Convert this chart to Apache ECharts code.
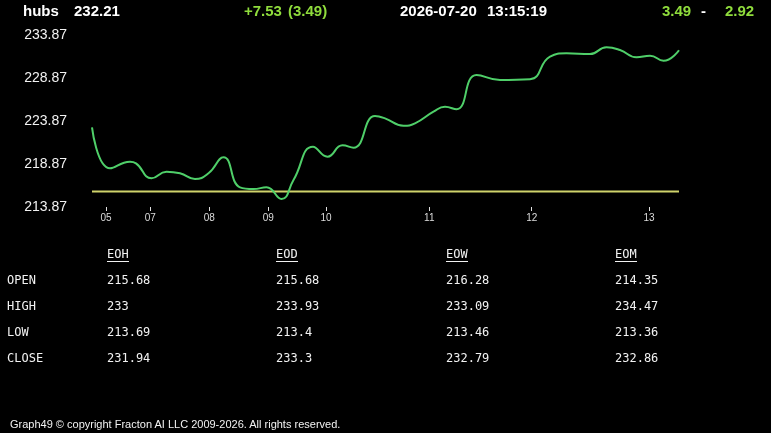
<!DOCTYPE html>
<html>
<head>
<meta charset="utf-8">
<script src="https://cdn.jsdelivr.net/npm/echarts@6/dist/echarts.min.js"></script>
<style>
  html, body { margin: 0; padding: 0; background: #000; }
  #wrap { position: relative; width: 771px; height: 433px; overflow: hidden; background: #000; }
  #chart { position: absolute; left: 0; top: 0; width: 771px; height: 433px; }
  .t { position: absolute; white-space: pre; line-height: 16px; pointer-events: none; }
  .hd { font: bold 15px "Liberation Sans", Arial, sans-serif; color: #fff; top: 2px; }
  .up { color: #8fdc3c; }
  .tb { font: 12px "DejaVu Sans Mono", monospace; color: #f2f2f2; }
  .uh { border-bottom: 1px solid #f2f2f2; line-height: 14px; }
  .ft { font: 11px "Liberation Sans", Arial, sans-serif; color: #f2f2f2; letter-spacing: 0px; }
</style>
</head>
<body>
<div id="wrap">
  <div id="chart"></div>
  <div class="t hd" style="left:23px">hubs</div>
  <div class="t hd" style="left:74px">232.21</div>
  <div class="t hd up" style="left:244px">+7.53</div>
  <div class="t hd up" style="left:288px">(3.49)</div>
  <div class="t hd" style="left:400px">2026-07-20</div>
  <div class="t hd" style="left:487px">13:15:19</div>
  <div class="t hd up" style="left:662px">3.49</div>
  <div class="t hd" style="left:701px">-</div>
  <div class="t hd up" style="left:725px">2.92</div>
  <div id="table"></div>
  <div class="t ft" style="left:10px;top:418px">Graph49 © copyright Fracton AI LLC 2009-2026. All rights reserved.</div>
</div>
<script>
// price trace (x = sample position, y = price)
const xs = [0, 3.6, 7.6, 8.8, 11.9, 14.9, 17.6, 20.6, 23.3, 26.3, 29.6, 32.3, 34.9, 37.9, 40.3,
  44.2, 47.1, 50.1, 52.3, 56.6, 58.6, 62.3, 64.6, 68.3, 70.6, 72.9, 76.9, 81.6, 87.6, 91.6,
  94.9, 99.6, 102.9, 105.6, 108.9, 111.6, 114.3, 117.4];
const prices = [223.14, 218.37, 219.14, 218.95, 217.21, 217.97, 217.79, 217.13, 217.79, 219.65,
  216.16, 215.96, 216.16, 214.80, 217.01, 220.88, 219.72, 221.04, 220.77, 224.45, 224.18,
  223.32, 223.60, 224.95, 225.53, 225.23, 229.22, 228.64, 228.72, 231.35, 231.74, 231.66,
  232.44, 232.13, 231.28, 231.46, 230.88, 232.10];
const openLevel = 215.68;

// axis ticks
const xTickPos = [2.8, 11.66, 23.46, 35.26, 46.8, 67.46, 87.94, 111.4];
const xTickLabels = ['05', '07', '08', '09', '10', '11', '12', '13'];
const yTicks = [213.87, 218.87, 223.87, 228.87, 233.87];

// summary table
const rowNames = ['OPEN', 'HIGH', 'LOW', 'CLOSE'];
const colNames = ['EOH', 'EOD', 'EOW', 'EOM'];
const eoh = ['215.68', '233', '213.69', '231.94'];
const eod = ['215.68', '233.93', '213.4', '233.3'];
const eow = ['216.28', '233.09', '213.46', '232.79'];
const eom = ['214.35', '234.47', '213.36', '232.86'];

const tableCols = [eoh, eod, eow, eom];
const colX = [107, 276, 446, 615];
const rowY = [281, 307, 333, 359];
let html = '';
colNames.forEach((c, i) => {
  html += `<div class="t tb" style="left:${colX[i]}px;top:247px"><span class="uh">${c}</span></div>`;
  tableCols[i].forEach((v, j) => {
    html += `<div class="t tb" style="left:${colX[i]}px;top:${rowY[j] - 8}px">${v}</div>`;
  });
});
rowNames.forEach((r, j) => {
  html += `<div class="t tb" style="left:7px;top:${rowY[j] - 8}px">${r}</div>`;
});
document.getElementById('table').innerHTML = html;

const chart = echarts.init(document.getElementById('chart'));
chart.setOption({
  backgroundColor: '#000',
  animation: false,
  grid: { left: 92, right: 92, top: 35, bottom: 226 },
  xAxis: {
    type: 'value',
    min: 0,
    max: 117.4,
    axisLine: { show: false },
    splitLine: { show: false },
    axisTick: { show: true, customValues: xTickPos, length: 4, lineStyle: { color: '#e0e0e0', width: 1 } },
    axisLabel: {
      customValues: xTickPos,
      color: '#dcdcdc',
      fontSize: 10,
      fontFamily: 'Liberation Sans',
      margin: 6,
      formatter: v => xTickLabels[xTickPos.indexOf(v)] || '',
    },
  },
  yAxis: {
    type: 'value',
    min: 213.87,
    max: 233.87,
    axisLine: { show: false },
    axisTick: { show: false },
    splitLine: { show: false },
    axisLabel: {
      customValues: yTicks,
      color: '#f2f2f2',
      fontSize: 14,
      fontFamily: 'Liberation Sans',
      margin: 25,
      formatter: v => v.toFixed(2),
    },
  },
  series: [
    {
      type: 'line',
      data: [[0, openLevel], [117.4, openLevel]],
      symbol: 'none',
      lineStyle: { color: '#cfd36b', width: 2 },
    },
    {
      type: 'line',
      data: xs.map((x, i) => [x, prices[i]]),
      smooth: 0.5,
      symbol: 'none',
      lineStyle: { color: '#4fcf69', width: 2 },
    },
  ],
});
</script>
</body>
</html>
